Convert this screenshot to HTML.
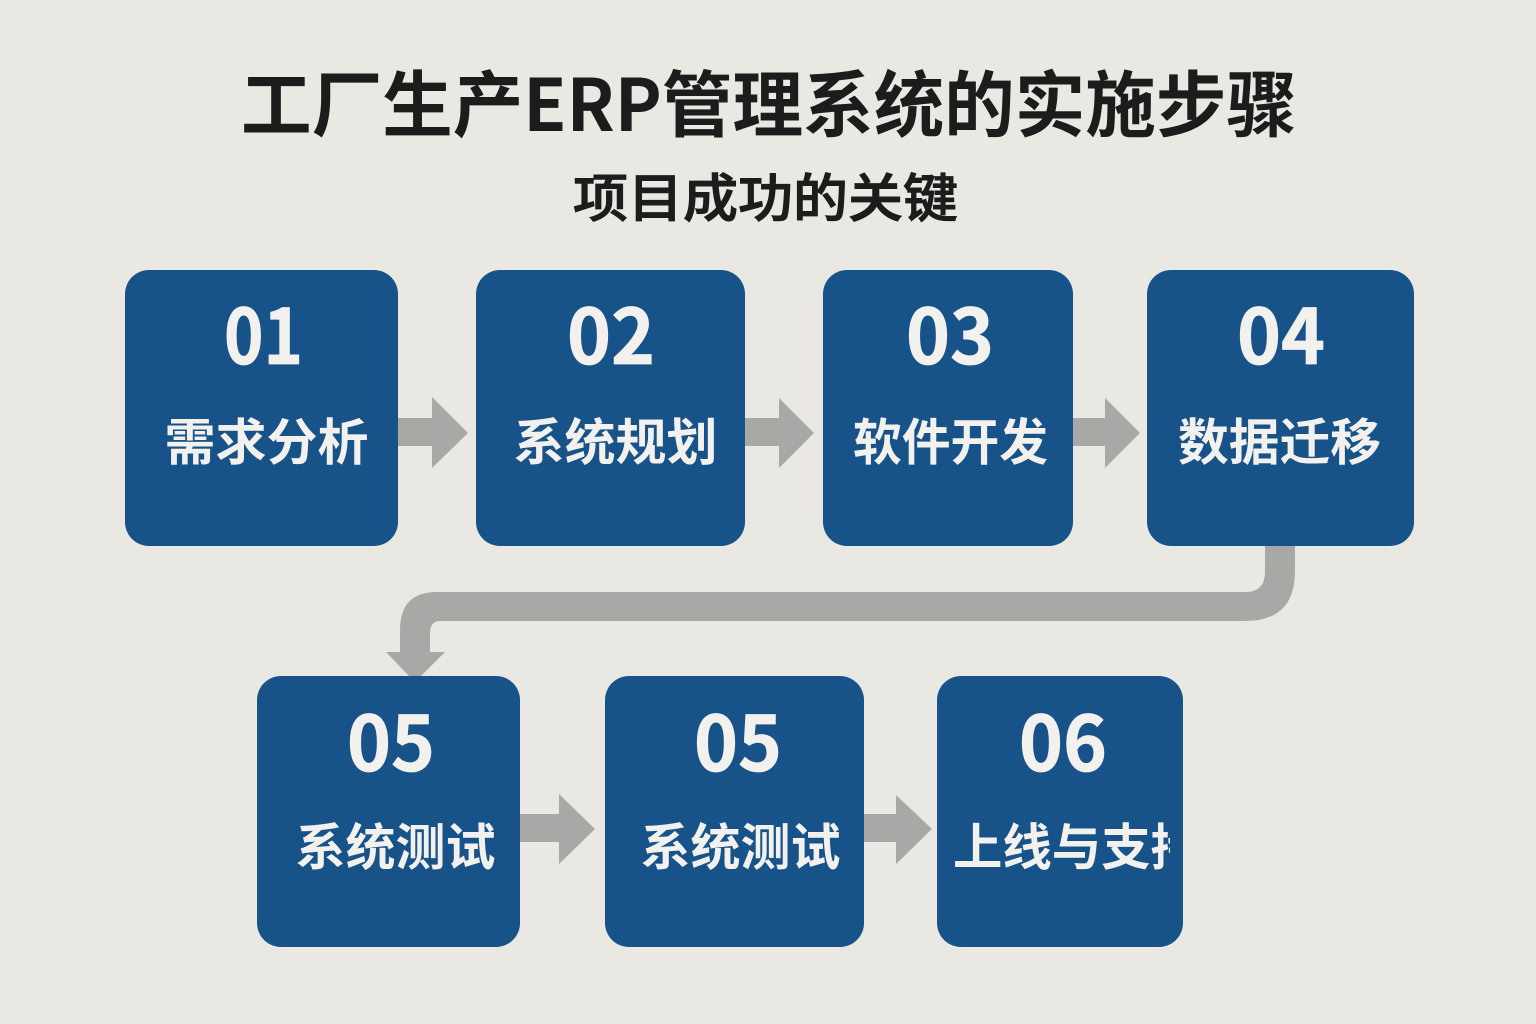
<!DOCTYPE html>
<html lang="zh">
<head>
<meta charset="utf-8">
<title>工厂生产ERP管理系统的实施步骤</title>
<style>
html,body{margin:0;padding:0;width:1536px;height:1024px;overflow:hidden;background:#e9e8e2}
svg{display:block}
text{font-family:"Liberation Sans","Noto Sans CJK SC",sans-serif}
.t{font-weight:700;fill:#1c1c1c;font-family:"Noto Sans CJK SC",sans-serif}
.s{font-weight:500;fill:#1c1c1c;stroke:#1c1c1c;stroke-width:1;font-family:"Noto Sans CJK SC",sans-serif}
.n{font-weight:700;font-size:76px;fill:#f2f1ed;stroke:#f2f1ed;stroke-width:.8;font-family:"Noto Sans CJK SC",sans-serif}
.l{font-weight:700;font-size:50px;fill:#f2f1ed;font-family:"Noto Sans CJK SC",sans-serif}
</style>
</head>
<body>
<svg width="1536" height="1024" viewBox="0 0 1536 1024" xmlns="http://www.w3.org/2000/svg">
<defs><clipPath id="c"><rect x="940" y="800" width="230" height="90"/></clipPath></defs>
<rect width="1536" height="1024" fill="#e9e8e2"/>
<text class="t" x="241" y="131" font-size="72" textLength="1056" lengthAdjust="spacingAndGlyphs">工厂生产ERP管理系统的实施步骤</text>
<text class="s" x="573" y="217" font-size="52" textLength="385" lengthAdjust="spacingAndGlyphs">项目成功的关键</text>

<g fill="#a8a8a6">
<polygon points="398,418 432,418 432,397 468,433 432,468 432,446 398,446"/>
<polygon points="745,418 779,418 779,398 814,433 779,468 779,446 745,446"/>
<polygon points="1073,418 1105,418 1105,398 1140,433 1105,468 1105,446 1073,446"/>
<polygon points="520,814 559,814 559,794 595,829 559,864 559,842 520,842"/>
<polygon points="864,814 896,814 896,795 932,829 896,864 896,842 864,842"/>
<path d="M1265,545 L1295,545 L1295,571 Q1295,621 1245,621 L440,621 Q430,621 430,634 L430,652 L445,652 L421,676 L409,676 L386,652 L400,652 L400,630 Q400,592 437,592 L1245,592 Q1265,592 1265,572 Z"/>
</g>

<g fill="#175388">
<rect x="125" y="270" width="273" height="276" rx="24"/>
<rect x="476" y="270" width="269" height="276" rx="24"/>
<rect x="823" y="270" width="250" height="276" rx="24"/>
<rect x="1147" y="270" width="267" height="276" rx="24"/>
<rect x="257" y="676" width="263" height="271" rx="24"/>
<rect x="605" y="676" width="259" height="271" rx="24"/>
<rect x="937" y="676" width="246" height="271" rx="24"/>
</g>

<text class="n" x="224" y="364" textLength="79" lengthAdjust="spacingAndGlyphs">01</text>
<text class="n" x="567" y="364" textLength="88" lengthAdjust="spacingAndGlyphs">02</text>
<text class="n" x="906" y="364" textLength="88" lengthAdjust="spacingAndGlyphs">03</text>
<text class="n" x="1237" y="364" textLength="88" lengthAdjust="spacingAndGlyphs">04</text>
<text class="n" x="347" y="771" textLength="88" lengthAdjust="spacingAndGlyphs">05</text>
<text class="n" x="694" y="771" textLength="88" lengthAdjust="spacingAndGlyphs">05</text>
<text class="n" x="1019" y="771" textLength="88" lengthAdjust="spacingAndGlyphs">06</text>

<text class="l" x="164.5" y="460" textLength="204" lengthAdjust="spacingAndGlyphs">需求分析</text>
<text class="l" x="513.5" y="460" textLength="204" lengthAdjust="spacingAndGlyphs">系统规划</text>
<text class="l" x="853" y="460" textLength="195" lengthAdjust="spacingAndGlyphs">软件开发</text>
<text class="l" x="1178" y="460" textLength="203" lengthAdjust="spacingAndGlyphs">数据迁移</text>
<text class="l" x="295.5" y="865" textLength="200" lengthAdjust="spacingAndGlyphs">系统测试</text>
<text class="l" x="640.5" y="865" textLength="200" lengthAdjust="spacingAndGlyphs">系统测试</text>
<g clip-path="url(#c)">
<text class="l" x="953" y="865" textLength="247" lengthAdjust="spacingAndGlyphs">上线与支持</text>
</g>
</svg>
</body>
</html>
